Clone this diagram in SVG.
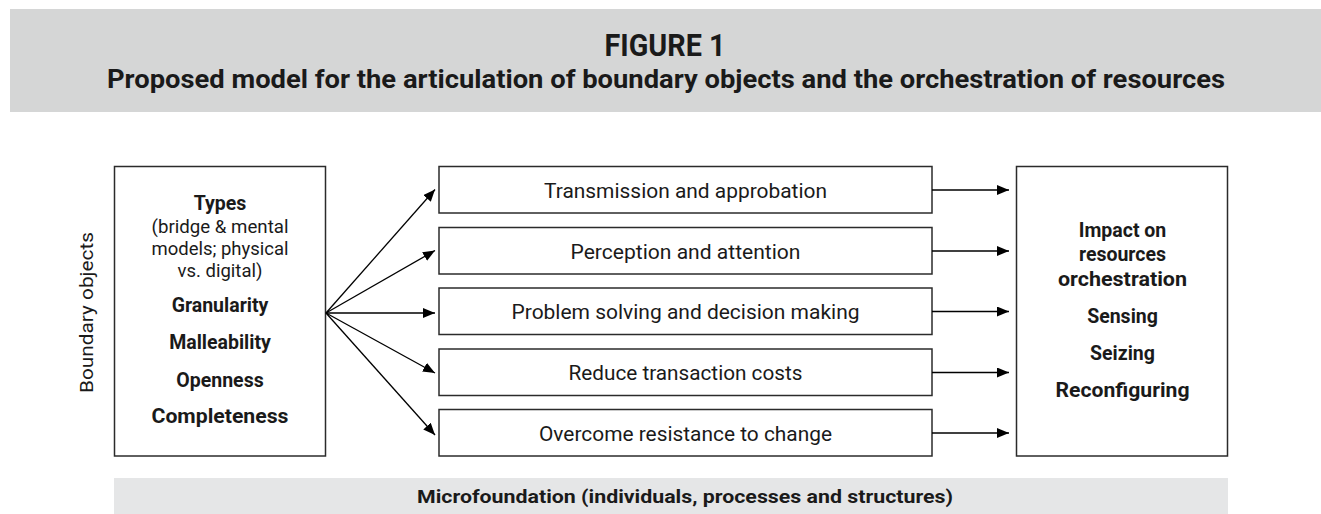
<svg xmlns="http://www.w3.org/2000/svg" width="1321" height="514" viewBox="0 0 1321 514">
  <style>
    .band-top { fill: #d5d6d6; }
    .band-bottom { fill: #e5e6e7; }
    .box { fill: #ffffff; stroke: #2b2b2b; stroke-width: 1.5; }
    .txt { font-family: Roboto, "Liberation Sans", sans-serif; fill: #1a1a1a; text-anchor: middle; }
    .reg { font-size: 18.5px; font-weight: 400; }
    .mid { font-size: 20.5px; font-weight: 400; }
    .bold { font-size: 19.5px; font-weight: 700; }
    .title { font-size: 31px; font-weight: 700; }
    .subtitle { font-size: 25.5px; font-weight: 700; }
    .foot { font-size: 18px; font-weight: 700; }
    .link { fill: none; stroke: #000000; stroke-width: 1.3; marker-end: url(#arrow); }
  </style>
  <defs>
    <marker id="arrow" markerUnits="userSpaceOnUse" markerWidth="13" markerHeight="11" refX="12" refY="5" orient="auto">
      <path d="M0,0 L12,5 L0,10 Z" fill="#000000"/>
    </marker>
  </defs>

  <!-- header band -->
  <g id="header">
    <rect class="band-top" x="10" y="9" width="1311" height="103"/>
    <text class="txt title" x="665" y="56" textLength="121" lengthAdjust="spacingAndGlyphs">FIGURE 1</text>
    <text class="txt subtitle" x="666" y="88" textLength="1118" lengthAdjust="spacingAndGlyphs">Proposed model for the articulation of boundary objects and the orchestration of resources</text>
  </g>

  <!-- side label -->
  <g id="side-label">
    <text class="txt reg" transform="translate(93,312.5) rotate(-90)" textLength="161" lengthAdjust="spacingAndGlyphs">Boundary objects</text>
  </g>

  <!-- boundary object properties -->
  <g id="node-boundary-objects">
    <rect class="box" x="114.5" y="166.5" width="211" height="289.5"/>
    <text class="txt bold" x="220" y="210">Types</text>
    <text class="txt reg" x="220" y="232.5" textLength="137" lengthAdjust="spacingAndGlyphs">(bridge &amp; mental</text>
    <text class="txt reg" x="220" y="255" textLength="137" lengthAdjust="spacingAndGlyphs">models; physical</text>
    <text class="txt reg" x="220" y="277">vs. digital)</text>
    <text class="txt bold" x="220" y="312">Granularity</text>
    <text class="txt bold" x="220" y="349">Malleability</text>
    <text class="txt bold" x="220" y="386.5">Openness</text>
    <text class="txt bold" x="220" y="423" textLength="137" lengthAdjust="spacingAndGlyphs">Completeness</text>
  </g>

  <!-- mechanisms -->
  <g id="node-transmission">
    <rect class="box" x="439" y="166.5" width="493" height="46.5"/>
    <text class="txt mid" x="685.5" y="197.5" textLength="283" lengthAdjust="spacingAndGlyphs">Transmission and approbation</text>
  </g>
  <g id="node-perception">
    <rect class="box" x="439" y="227.5" width="493" height="46.5"/>
    <text class="txt mid" x="685.5" y="258.5" textLength="230" lengthAdjust="spacingAndGlyphs">Perception and attention</text>
  </g>
  <g id="node-problem-solving">
    <rect class="box" x="439" y="288" width="493" height="46.5"/>
    <text class="txt mid" x="685.5" y="319" textLength="348" lengthAdjust="spacingAndGlyphs">Problem solving and decision making</text>
  </g>
  <g id="node-transaction-costs">
    <rect class="box" x="439" y="349" width="493" height="46.5"/>
    <text class="txt mid" x="685.5" y="380" textLength="234" lengthAdjust="spacingAndGlyphs">Reduce transaction costs</text>
  </g>
  <g id="node-resistance">
    <rect class="box" x="439" y="409.5" width="493" height="46.5"/>
    <text class="txt mid" x="685.5" y="440.5" textLength="293" lengthAdjust="spacingAndGlyphs">Overcome resistance to change</text>
  </g>

  <!-- outcomes -->
  <g id="node-orchestration">
    <rect class="box" x="1016.5" y="166.5" width="211" height="289.5"/>
    <text class="txt bold" x="1122.5" y="236.5">Impact on</text>
    <text class="txt bold" x="1122.5" y="261">resources</text>
    <text class="txt bold" x="1122.5" y="285.5" textLength="129" lengthAdjust="spacingAndGlyphs">orchestration</text>
    <text class="txt bold" x="1122.5" y="323">Sensing</text>
    <text class="txt bold" x="1122.5" y="359.5">Seizing</text>
    <text class="txt bold" x="1122.5" y="396.5" textLength="134" lengthAdjust="spacingAndGlyphs">Reconfiguring</text>
  </g>

  <!-- connectors -->
  <g id="connectors">
    <line class="link" x1="326" y1="313" x2="435" y2="189.5"/>
    <line class="link" x1="326" y1="313" x2="435" y2="250.5"/>
    <line class="link" x1="326" y1="313" x2="435" y2="313"/>
    <line class="link" x1="326" y1="313" x2="435" y2="373"/>
    <line class="link" x1="326" y1="313" x2="435" y2="435"/>
    <line class="link" x1="932" y1="190" x2="1009" y2="190"/>
    <line class="link" x1="932" y1="251" x2="1009" y2="251"/>
    <line class="link" x1="932" y1="311.5" x2="1009" y2="311.5"/>
    <line class="link" x1="932" y1="372.5" x2="1009" y2="372.5"/>
    <line class="link" x1="932" y1="433" x2="1009" y2="433"/>
  </g>

  <!-- footer band -->
  <g id="footer">
    <rect class="band-bottom" x="114" y="478" width="1114" height="36"/>
    <text class="txt foot" x="685" y="502.5" textLength="536" lengthAdjust="spacingAndGlyphs">Microfoundation (individuals, processes and structures)</text>
  </g>
</svg>
